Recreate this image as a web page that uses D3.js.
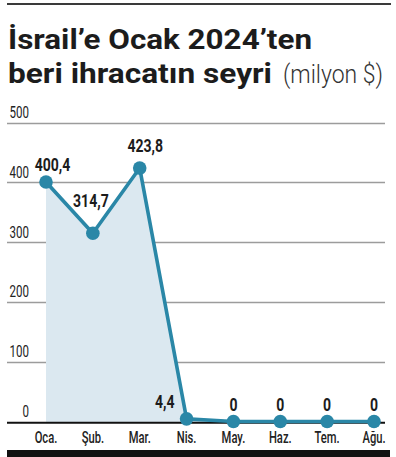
<!DOCTYPE html>
<html><head><meta charset="utf-8">
<script src="https://cdn.jsdelivr.net/npm/d3@7"></script>
<style>
html,body{margin:0;padding:0;background:#fff;}
svg{display:block;}
text{font-family:Roboto,"Liberation Sans","DejaVu Sans",sans-serif;}
</style></head>
<body>
<svg id="c" width="396" height="457"></svg>
<script>
const months = ["Oca.","Şub.","Mar.","Nis.","May.","Haz.","Tem.","Ağu."];
const values = [400.4, 314.7, 423.8, 4.4, 0, 0, 0, 0];
const valueLabels = ["400,4","314,7","423,8","4,4","0","0","0","0"];
const yTicks = [0,100,200,300,400,500];
const titleLine1 = "İsrail’e Ocak 2024’ten";
const titleLine2 = "beri ihracatın seyri";
const unitLabel = "(milyon $)";

const svg = d3.select("#c");
const color = "#2a87a7";
const fill = "#dbe8f0";
const ink = "#1c1c1c";

// frame rules
svg.append("rect").attr("x",7).attr("y",3).attr("width",384).attr("height",2).attr("fill","#3a3a3a");
svg.append("rect").attr("x",7).attr("y",450).attr("width",383).attr("height",7).attr("fill","#111");

// title
svg.append("text").attr("x",8).attr("y",49).attr("font-size",28).attr("font-weight","bold").attr("fill",ink)
  .attr("textLength",304).attr("lengthAdjust","spacingAndGlyphs").text(titleLine1);
svg.append("text").attr("x",8).attr("y",83).attr("font-size",28).attr("font-weight","bold").attr("fill",ink)
  .attr("textLength",264).attr("lengthAdjust","spacingAndGlyphs").text(titleLine2);
svg.append("text").attr("x",283).attr("y",83).attr("font-size",25).attr("font-weight","300").attr("fill","#333")
  .attr("textLength",100).attr("lengthAdjust","spacingAndGlyphs").text(unitLabel);

const x = d3.scalePoint().domain(months).range([46,374]);
const y = d3.scaleLinear().domain([0,500]).range([421.5,122.5]);

// gridlines
svg.append("g").selectAll("line").data(yTicks.filter(d=>d>0)).join("line")
  .attr("x1",7).attr("x2",385).attr("y1",d=>Math.round(y(d))+0.5).attr("y2",d=>Math.round(y(d))+0.5)
  .attr("stroke","#9c9c9c").attr("stroke-width",1.3);
svg.append("g").selectAll("text").data(yTicks).join("text")
  .attr("transform",d=>`translate(29,${y(d)-4.5}) scale(0.68,1)`)
  .attr("text-anchor","end").attr("font-size",17).attr("fill","#222").text(d=>d);

// area
const data = months.map((m,i)=>({m, v: values[i], l: valueLabels[i]}));
svg.append("path").datum(data)
  .attr("d", d3.area().x(d=>x(d.m)).y0(y(0)+1).y1(d=>y(d.v)))
  .attr("fill", fill);

// baseline
svg.append("line").attr("x1",7).attr("x2",385).attr("y1",y(0)+1.3).attr("y2",y(0)+1.3).attr("stroke","#111").attr("stroke-width",2);

// line
svg.append("path").datum(data)
  .attr("d", d3.line().x(d=>x(d.m)).y(d=>y(d.v)))
  .attr("fill","none").attr("stroke",color).attr("stroke-width",3.6).attr("stroke-linejoin","round");

svg.selectAll("circle.pt").data(data).join("circle")
  .attr("class","pt").attr("cx",d=>x(d.m)).attr("cy",d=>y(d.v)).attr("r",6.8).attr("fill",color);

// value labels
const off = [[6.5,-11],[-2,-26],[5.5,-16],[-12,-11],[0,-11],[0,-11],[0,-11],[0,-11]];
svg.selectAll("text.val").data(data).join("text")
  .attr("class","val")
  .attr("transform",(d,i)=>`translate(${x(d.m)+off[i][0]},${y(d.v)+off[i][1]}) scale(0.78,1)`)
  .attr("text-anchor",(d,i)=>i===3?"end":"middle")
  .attr("font-size",18).attr("font-weight","bold").attr("fill",ink)
  .text(d=>d.l);

// x axis labels
svg.selectAll("text.xl").data(months).join("text")
  .attr("class","xl").attr("transform",d=>`translate(${x(d)},443) scale(0.7,1)`)
  .attr("text-anchor","middle").attr("font-size",16).attr("font-weight","500").attr("fill","#222").text(d=>d);
</script>
</body></html>
